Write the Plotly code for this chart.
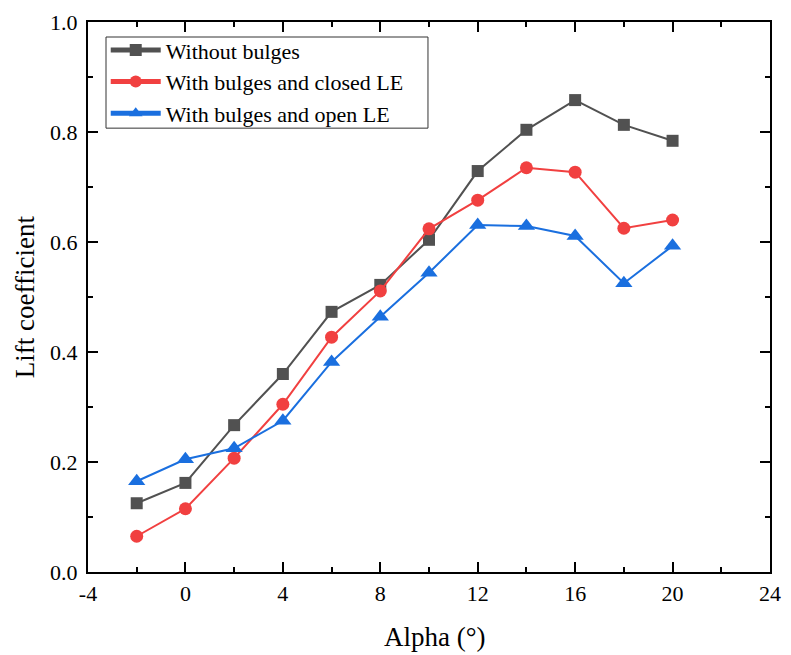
import plotly.graph_objects as go

alpha = [-2, 0, 2, 4, 6, 8, 10, 12, 14, 16, 18, 20]
without_bulges = [0.125, 0.162, 0.267, 0.360, 0.473, 0.522, 0.604, 0.729, 0.804, 0.858, 0.813, 0.784]
closed_le = [0.065, 0.115, 0.207, 0.305, 0.427, 0.511, 0.624, 0.676, 0.735, 0.727, 0.625, 0.640]
open_le = [0.165, 0.205, 0.225, 0.275, 0.382, 0.464, 0.544, 0.631, 0.629, 0.611, 0.525, 0.593]

x_tickvals = [-4, 0, 4, 8, 12, 16, 20, 24]
x_ticktext = ["-4", "0", "4", "8", "12", "16", "20", "24"]
y_tickvals = [0, 0.2, 0.4, 0.6, 0.8, 1.0]

names = ["Without bulges", "With bulges and closed LE", "With bulges and open LE"]
colors = ["#515151", "#F14040", "#1A6FDF"]
symbols = ["square", "circle", "triangle-up"]
sizes = [12, 13, 15]

fig = go.Figure()
for name, ys, c, s, sz in zip(names, [without_bulges, closed_le, open_le], colors, symbols, sizes):
    fig.add_trace(go.Scatter(
        x=alpha, y=ys, name=name, mode="lines+markers",
        line=dict(color=c, width=2),
        marker=dict(symbol=s, size=sz, color=c),
    ))

font = "Liberation Serif"
axis_common = dict(
    showline=True, linecolor="black", linewidth=2, mirror="allticks",
    ticks="inside", ticklen=10, tickwidth=2, tickcolor="black",
    showgrid=False, zeroline=False, automargin=False,
    tickfont=dict(family=font, size=22, color="black"),
)
fig.update_xaxes(
    range=[-4, 24], tickvals=x_tickvals, ticktext=x_ticktext,
    minor=dict(ticks="inside", ticklen=5, tickwidth=2, tickcolor="black", dtick=2, tick0=0),
    ticklabelstandoff=1,
    **axis_common,
)
fig.update_yaxes(
    range=[0, 1.0], tickvals=y_tickvals, tickformat=".1f",
    minor=dict(ticks="inside", ticklen=5, tickwidth=2, tickcolor="black", dtick=0.1, tick0=0),
    ticklabelstandoff=4,
    **axis_common,
)
fig.add_annotation(text="Alpha (°)", xref="paper", yref="paper", x=0.509, y=-0.118,
                   xanchor="center", yanchor="middle", showarrow=False,
                   font=dict(family=font, size=27, color="black"))
fig.add_annotation(text="Lift coefficient", xref="paper", yref="paper", x=-0.092, y=0.5,
                   xanchor="center", yanchor="middle", textangle=-90, showarrow=False,
                   font=dict(family=font, size=27, color="black"))
# legend frame
fig.add_shape(type="rect", xref="paper", yref="paper", x0=0.0264, x1=0.4985, y0=0.807, y1=0.9727,
              line=dict(color="#333333", width=1), fillcolor="white", layer="below")
fig.update_layout(
    width=783, height=647,
    margin=dict(l=80, r=21, t=14, b=83),
    plot_bgcolor="white", paper_bgcolor="white",
    font=dict(family=font, size=22, color="black"),
    legend=dict(
        x=0.026, y=0.987, xanchor="left", yanchor="top",
        borderwidth=0, bgcolor="rgba(0,0,0,0)",
        font=dict(family=font, size=22, color="black"),
        tracegroupgap=0, itemsizing="constant", itemwidth=50,
    ),
)
fig.write_html("out.html")
